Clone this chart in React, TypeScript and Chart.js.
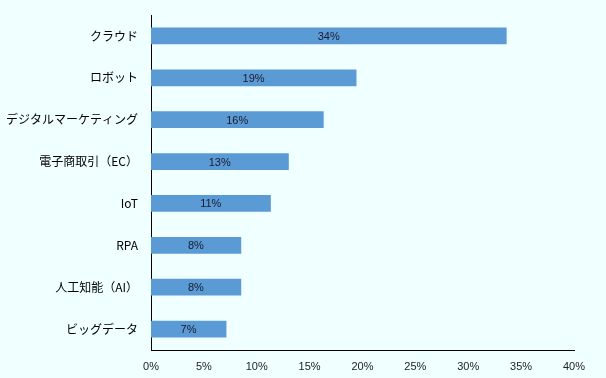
import React, { useEffect, useRef } from "react";
import { Chart, registerables } from "chart.js";

Chart.register(...registerables);

const categories = [
  "クラウド",
  "ロボット",
  "デジタルマーケティング",
  "電子商取引（EC）",
  "IoT",
  "RPA",
  "人工知能（AI）",
  "ビッグデータ",
];
const values = [33.6, 19.4, 16.3, 13.0, 11.3, 8.5, 8.5, 7.1];
const valueLabels = ["34%", "19%", "16%", "13%", "11%", "8%", "8%", "7%"];
const xTicks = [0, 5, 10, 15, 20, 25, 30, 35, 40];

const barLabelPlugin = {
  id: "barLabels",
  afterDatasetsDraw(chart: any) {
    const ctx = chart.ctx;
    const meta = chart.getDatasetMeta(0);
    ctx.save();
    ctx.font = "11px 'Liberation Sans', Arial, sans-serif";
    ctx.fillStyle = "#1a1a2e";
    ctx.textAlign = "center";
    ctx.textBaseline = "middle";
    meta.data.forEach((bar: any, i: number) => {
      const { x, y, base } = bar.getProps(["x", "y", "base"], true);
      ctx.fillText(valueLabels[i], (x + base) / 2, y + 1);
    });
    ctx.restore();
  },
};

export default function App() {
  const ref = useRef<HTMLCanvasElement>(null);
  useEffect(() => {
    if (!ref.current) return;
    const chart = new Chart(ref.current, {
      type: "bar",
      data: {
        labels: categories,
        datasets: [
          {
            data: values,
            backgroundColor: "#5B9BD5",
            borderWidth: 0,
            barThickness: 16,
            categoryPercentage: 1,
          },
        ],
      },
      options: {
        indexAxis: "y",
        animation: false,
        responsive: false,
        maintainAspectRatio: false,
        layout: { padding: { top: 15, right: 32, left: 0, bottom: 0 } },
        plugins: {
          legend: { display: false },
          tooltip: { enabled: false },
        },
        scales: {
          x: {
            min: 0,
            max: 40,
            afterBuildTicks(scale: any) {
              scale.ticks = xTicks.map((v) => ({ value: v }));
            },
            afterFit(scale: any) {
              scale.height = 28;
              scale.paddingLeft = 0;
              scale.paddingRight = 0;
            },
            grid: { display: false, drawTicks: false },
            border: { display: true, color: "#000", width: 1 },
            ticks: {
              color: "#222",
              font: { family: "'Liberation Sans', Arial, sans-serif", size: 11 },
              padding: 10,
              callback: (v: any) => v + "%",
            },
          },
          y: {
            afterFit(scale: any) {
              scale.width = 151;
              scale.paddingTop = 0;
              scale.paddingBottom = 0;
            },
            grid: { display: false, drawTicks: false },
            border: { display: true, color: "#000", width: 1 },
            ticks: {
              color: "#000",
              font: { family: "'Noto Sans CJK JP', sans-serif", size: 12 },
              padding: 13,
            },
          },
        },
      },
      plugins: [barLabelPlugin],
    });
    return () => chart.destroy();
  }, []);
  return (
    <div
      style={{
        position: "absolute",
        left: 0,
        top: 0,
        width: 606,
        height: 378,
        background: "#F0FFFF",
      }}
    >
      <canvas ref={ref} width={606} height={378} style={{ display: "block" }} />
    </div>
  );
}
